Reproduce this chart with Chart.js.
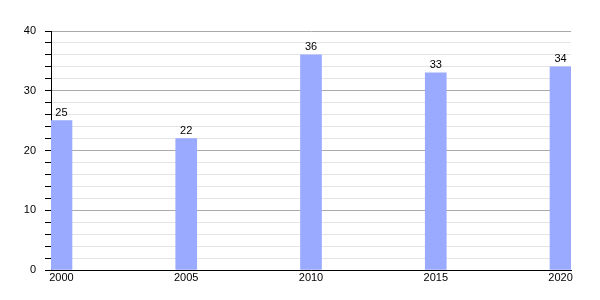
<!DOCTYPE html>
<html>
<head>
<meta charset="utf-8">
<script src="https://cdn.jsdelivr.net/npm/chart.js@4/dist/chart.umd.min.js"></script>
<style>
    html, body { margin: 0; padding: 0; background: #fff; }
    #wrap { width: 600px; height: 300px; }
</style>
</head>
<body>
<div id="wrap"><canvas id="barChart"></canvas></div>
<script>
// dados
const years = [2000, 2005, 2010, 2015, 2020];
const values = [25, 22, 36, 33, 34];
const yTicks = [0, 10, 20, 30, 40];

// meia largura da barra em anos (barra ~21px, 5 anos ~125px)
const halfBar = 0.42;

// rótulos de valor acima das barras
const valueLabels = {
    id: 'valueLabels',
    afterDatasetsDraw(chart) {
        const ctx = chart.ctx;
        const meta = chart.getDatasetMeta(0);
        ctx.save();
        ctx.font = '11px "Liberation Sans", Arial, sans-serif';
        ctx.fillStyle = '#000';
        ctx.textAlign = 'center';
        ctx.textBaseline = 'bottom';
        meta.data.forEach(function(bar, i) {
            ctx.fillText(values[i], bar.x, bar.y - 2);
        });
        ctx.restore();
    }
};

new Chart(document.getElementById('barChart'), {
    type: 'bar',
    data: {
        datasets: [{
            data: years.map((y, i) => ({ x: y, y: values[i] })),
            backgroundColor: '#99aaff',
            borderWidth: 0,
            barThickness: 21
        }]
    },
    options: {
        responsive: true,
        maintainAspectRatio: false,
        animation: false,
        layout: {
            padding: { top: 31, right: 29, left: 0, bottom: 0 }
        },
        plugins: {
            legend: { display: false },
            tooltip: { enabled: false }
        },
        scales: {
            x: {
                type: 'linear',
                offset: false,
                min: years[0] - halfBar,
                max: years[years.length - 1] + halfBar,
                afterBuildTicks: s => { s.ticks = years.map(v => ({ value: v })); },
                afterFit: s => { s.height = 30; },
                grid: { display: false, drawTicks: false },
                border: { display: true, color: '#000', width: 1 },
                ticks: {
                    padding: 1,
                    color: '#000',
                    font: { family: '"Liberation Sans", Arial, sans-serif', size: 11 },
                    callback: v => String(v)
                }
            },
            y: {
                min: 0,
                max: 40,
                afterBuildTicks: s => {
                    const t = [];
                    for (let v = 0; v <= 40; v += 2) t.push({ value: v });
                    s.ticks = t;
                },
                afterFit: s => { s.width = 51; },
                border: { display: true, color: '#000', width: 1 },
                grid: {
                    color: c => (c.tick.value % 10 === 0 ? '#aaaaaa' : '#e4e4e4'),
                    tickColor: '#000',
                    tickLength: 6
                },
                ticks: {
                    padding: 9,
                    color: '#000',
                    autoSkip: false,
                    font: { family: '"Liberation Sans", Arial, sans-serif', size: 11 },
                    callback: v => (yTicks.includes(v) ? String(v) : '')
                }
            }
        }
    },
    plugins: [valueLabels]
});
</script>
</body>
</html>
